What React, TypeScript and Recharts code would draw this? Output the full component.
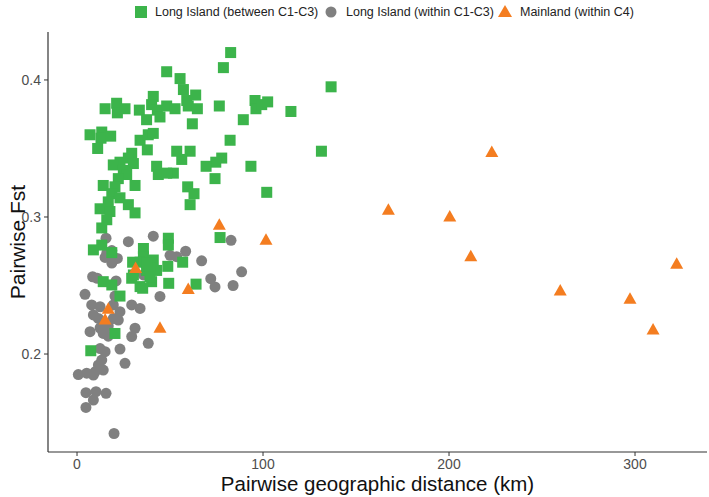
import React from 'react';
import { ScatterChart, Scatter, XAxis, YAxis, Legend } from 'recharts';

const FONT = '"Liberation Sans", Arial, Helvetica, sans-serif';
const GREEN = '#3cb44b';
const GREY = '#808080';
const ORANGE = '#f47d20';

const seriesNames = ['Long Island (between C1-C3)', 'Long Island (within C1-C3)', 'Mainland (within C4)'];
const xTicks = [0, 100, 200, 300];
const yTicks = [0.2, 0.3, 0.4];

const betweenC1C3 = [
  { km: 82.6, fst: 0.420 }, { km: 78.7, fst: 0.409 }, { km: 48.2, fst: 0.406 }, { km: 55.4, fst: 0.401 },
  { km: 57.2, fst: 0.393 }, { km: 136.6, fst: 0.395 }, { km: 59.0, fst: 0.385 }, { km: 63.8, fst: 0.389 },
  { km: 59.8, fst: 0.381 }, { km: 64.7, fst: 0.379 }, { km: 76.5, fst: 0.381 }, { km: 95.7, fst: 0.385 },
  { km: 96.2, fst: 0.379 }, { km: 99.3, fst: 0.382 }, { km: 102.5, fst: 0.384 }, { km: 115.0, fst: 0.377 },
  { km: 62.0, fst: 0.368 }, { km: 89.4, fst: 0.371 }, { km: 82.3, fst: 0.356 }, { km: 60.8, fst: 0.348 },
  { km: 56.3, fst: 0.342 }, { km: 77.8, fst: 0.343 }, { km: 74.6, fst: 0.340 }, { km: 69.4, fst: 0.337 },
  { km: 93.5, fst: 0.337 }, { km: 131.4, fst: 0.348 }, { km: 74.2, fst: 0.328 }, { km: 102.0, fst: 0.318 },
  { km: 59.5, fst: 0.322 }, { km: 62.9, fst: 0.317 }, { km: 60.8, fst: 0.309 }, { km: 76.9, fst: 0.285 },
  { km: 56.8, fst: 0.267 }, { km: 64.0, fst: 0.251 }, { km: 15.1, fst: 0.379 }, { km: 21.3, fst: 0.383 },
  { km: 21.7, fst: 0.376 }, { km: 25.8, fst: 0.379 }, { km: 33.5, fst: 0.378 }, { km: 41.0, fst: 0.388 },
  { km: 40.1, fst: 0.382 }, { km: 43.2, fst: 0.378 }, { km: 44.6, fst: 0.373 }, { km: 48.2, fst: 0.381 },
  { km: 52.7, fst: 0.379 }, { km: 37.4, fst: 0.371 }, { km: 7.0, fst: 0.360 }, { km: 13.3, fst: 0.362 },
  { km: 12.9, fst: 0.3575 }, { km: 18.1, fst: 0.359 }, { km: 11.1, fst: 0.350 }, { km: 33.9, fst: 0.356 },
  { km: 38.3, fst: 0.360 }, { km: 41.0, fst: 0.361 }, { km: 37.8, fst: 0.349 }, { km: 53.6, fst: 0.348 },
  { km: 29.4, fst: 0.3465 }, { km: 27.6, fst: 0.343 }, { km: 23.1, fst: 0.340 }, { km: 19.5, fst: 0.338 },
  { km: 42.8, fst: 0.337 }, { km: 24.9, fst: 0.334 }, { km: 30.3, fst: 0.339 }, { km: 43.7, fst: 0.331 },
  { km: 51.8, fst: 0.332 }, { km: 48.2, fst: 0.332 }, { km: 26.7, fst: 0.331 }, { km: 22.2, fst: 0.328 },
  { km: 14.1, fst: 0.323 }, { km: 20.4, fst: 0.322 }, { km: 31.2, fst: 0.323 }, { km: 18.7, fst: 0.317 },
  { km: 23.1, fst: 0.314 }, { km: 16.8, fst: 0.311 }, { km: 27.6, fst: 0.309 }, { km: 12.4, fst: 0.306 },
  { km: 17.7, fst: 0.304 }, { km: 31.2, fst: 0.303 }, { km: 16.0, fst: 0.298 }, { km: 13.3, fst: 0.292 },
  { km: 13.3, fst: 0.2795 }, { km: 8.8, fst: 0.276 }, { km: 35.7, fst: 0.277 }, { km: 49.1, fst: 0.2845 },
  { km: 49.1, fst: 0.2795 }, { km: 35.7, fst: 0.271 }, { km: 41.0, fst: 0.2686 }, { km: 33.9, fst: 0.267 },
  { km: 37.4, fst: 0.261 }, { km: 42.8, fst: 0.261 }, { km: 48.8, fst: 0.264 }, { km: 30.3, fst: 0.2577 },
  { km: 14.1, fst: 0.2528 }, { km: 18.7, fst: 0.2504 }, { km: 33.9, fst: 0.2492 }, { km: 40.1, fst: 0.2528 },
  { km: 49.3, fst: 0.2516 }, { km: 18.7, fst: 0.274 }, { km: 39.2, fst: 0.2625 }, { km: 29.4, fst: 0.2553 },
  { km: 39.2, fst: 0.2565 }, { km: 35.3, fst: 0.248 }, { km: 23.1, fst: 0.2423 }, { km: 20.4, fst: 0.215 },
  { km: 7.4, fst: 0.2024 }, { km: 29.9, fst: 0.267 }, { km: 37.4, fst: 0.2665 },
];

const withinC1C3 = [
  { km: 82.8, fst: 0.283 }, { km: 58.4, fst: 0.275 }, { km: 67.0, fst: 0.268 }, { km: 88.5, fst: 0.260 },
  { km: 71.9, fst: 0.255 }, { km: 74.2, fst: 0.249 }, { km: 83.9, fst: 0.250 }, { km: 15.6, fst: 0.2845 },
  { km: 27.6, fst: 0.282 }, { km: 18.7, fst: 0.2755 }, { km: 15.1, fst: 0.2705 }, { km: 21.7, fst: 0.2698 },
  { km: 50.0, fst: 0.272 }, { km: 53.6, fst: 0.271 }, { km: 18.7, fst: 0.2664 }, { km: 35.7, fst: 0.2577 },
  { km: 8.4, fst: 0.2564 }, { km: 10.9, fst: 0.2553 }, { km: 21.0, fst: 0.2533 }, { km: 44.6, fst: 0.242 },
  { km: 4.3, fst: 0.2436 }, { km: 20.4, fst: 0.2423 }, { km: 41.0, fst: 0.286 }, { km: 16.0, fst: 0.2737 },
  { km: 7.9, fst: 0.2358 }, { km: 12.4, fst: 0.2345 }, { km: 19.5, fst: 0.2358 }, { km: 29.4, fst: 0.2358 },
  { km: 33.9, fst: 0.2333 }, { km: 23.1, fst: 0.2309 }, { km: 8.8, fst: 0.2285 }, { km: 11.5, fst: 0.226 },
  { km: 19.5, fst: 0.226 }, { km: 22.2, fst: 0.2248 }, { km: 31.2, fst: 0.2188 }, { km: 7.0, fst: 0.2163 },
  { km: 14.1, fst: 0.215 }, { km: 16.8, fst: 0.213 }, { km: 29.4, fst: 0.2127 }, { km: 12.4, fst: 0.219 },
  { km: 16.8, fst: 0.2205 }, { km: 23.1, fst: 0.2036 }, { km: 38.3, fst: 0.2078 }, { km: 12.4, fst: 0.204 },
  { km: 15.1, fst: 0.2017 }, { km: 13.3, fst: 0.1956 }, { km: 11.5, fst: 0.192 }, { km: 25.8, fst: 0.1932 },
  { km: 14.1, fst: 0.1883 }, { km: 9.7, fst: 0.187 }, { km: 5.2, fst: 0.186 }, { km: 0.7, fst: 0.185 },
  { km: 8.8, fst: 0.1847 }, { km: 4.8, fst: 0.1718 }, { km: 10.2, fst: 0.1725 }, { km: 15.6, fst: 0.1713 },
  { km: 8.8, fst: 0.1664 }, { km: 4.8, fst: 0.161 }, { km: 19.9, fst: 0.142 },
];

const mainlandC4 = [
  { km: 223.0, fst: 0.347 }, { km: 167.4, fst: 0.305 }, { km: 200.4, fst: 0.300 }, { km: 211.7, fst: 0.271 },
  { km: 259.8, fst: 0.246 }, { km: 297.3, fst: 0.240 }, { km: 309.7, fst: 0.2175 }, { km: 322.4, fst: 0.2655 },
  { km: 76.5, fst: 0.294 }, { km: 101.6, fst: 0.283 }, { km: 59.8, fst: 0.247 }, { km: 31.5, fst: 0.2625 },
  { km: 16.8, fst: 0.2326 }, { km: 15.1, fst: 0.2248 }, { km: 44.6, fst: 0.2188 },
];

const SquareShape = (props: any) => {
  const { cx, cy } = props;
  return <rect x={cx - 5.5} y={cy - 5.5} width={11} height={11} fill={GREEN} />;
};
const CircleShape = (props: any) => {
  const { cx, cy } = props;
  return <circle cx={cx} cy={cy} r={5.5} fill={GREY} />;
};
const TriangleShape = (props: any) => {
  const { cx, cy } = props;
  return <polygon points={`${cx},${cy - 7} ${cx + 6.5},${cy + 4.5} ${cx - 6.5},${cy + 4.5}`} fill={ORANGE} />;
};

const legendItemStyle = (left: number): React.CSSProperties => ({
  position: 'absolute', left, top: 4, fontFamily: FONT, fontSize: 12.5, lineHeight: '16px', color: '#222', whiteSpace: 'nowrap',
});

const LegendContent = () => (
  <div style={{ position: 'relative', width: 709, height: 24 }}>
    <svg width={709} height={24} style={{ position: 'absolute', left: 0, top: 0 }}>
      <rect x={135} y={6} width={12} height={12} fill={GREEN} />
      <circle cx={331} cy={12} r={5.5} fill={GREY} />
      <polygon points="505,5 512,17 498,17" fill={ORANGE} />
    </svg>
    <span style={legendItemStyle(155)}>{seriesNames[0]}</span>
    <span style={legendItemStyle(346)}>{seriesNames[1]}</span>
    <span style={legendItemStyle(520)}>{seriesNames[2]}</span>
  </div>
);

export default function App() {
  const tickStyle = { fill: '#4d4d4d', fontSize: 14, fontFamily: FONT };
  return (
    <div style={{ position: 'absolute', left: 0, top: 0, background: '#fff' }}>
      <ScatterChart width={709} height={497} margin={{ top: 32, right: 2, bottom: 0, left: 8 }}>
        <XAxis
          type="number"
          dataKey="km"
          domain={[-15.6, 338.7]}
          ticks={xTicks}
          allowDataOverflow
          height={45}
          stroke="#333"
          tickSize={4}
          tickMargin={3}
          tick={tickStyle}
          axisLine={{ stroke: '#333', strokeWidth: 1.2 }}
          tickLine={{ stroke: '#333' }}
          label={{ value: 'Pairwise geographic distance (km)', position: 'insideBottom', offset: 6, style: { fill: '#111', fontSize: 20.5, fontFamily: FONT } }}
        />
        <YAxis
          type="number"
          dataKey="fst"
          domain={[0.1285, 0.435]}
          ticks={yTicks}
          allowDataOverflow
          width={40}
          stroke="#333"
          tickSize={4}
          tickMargin={3}
          tick={tickStyle}
          tickFormatter={(v: number) => v.toFixed(1)}
          axisLine={{ stroke: '#333', strokeWidth: 1.2 }}
          tickLine={{ stroke: '#333' }}
          label={{ value: 'Pairwise Fst', angle: -90, position: 'insideLeft', offset: 10, style: { textAnchor: 'middle', fill: '#111', fontSize: 21, fontFamily: FONT } }}
        />
        <Legend
          layout="horizontal"
          verticalAlign="middle"
          align="center"
          content={<LegendContent />}
          wrapperStyle={{ top: 0, left: 0, width: 709 }}
        />
        <Scatter name={seriesNames[1]} data={withinC1C3} shape={<CircleShape />} isAnimationActive={false} />
        <Scatter name={seriesNames[0]} data={betweenC1C3} shape={<SquareShape />} isAnimationActive={false} />
        <Scatter name={seriesNames[2]} data={mainlandC4} shape={<TriangleShape />} isAnimationActive={false} />
      </ScatterChart>
    </div>
  );
}
